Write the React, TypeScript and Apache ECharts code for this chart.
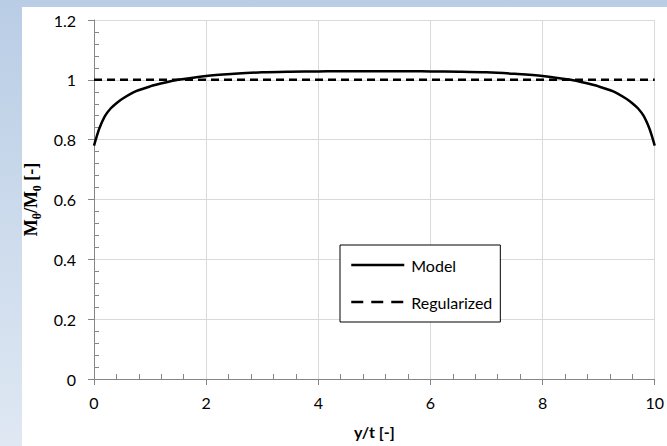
import React, { useEffect, useRef } from "react";
import * as echarts from "echarts";

const xValues = [0, 0.05, 0.1, 0.2, 0.3, 0.4, 0.5, 0.75, 1, 1.25, 1.5, 2, 2.5, 3, 3.5, 4, 4.5, 5, 5.5, 6, 6.5, 7, 7.5, 8, 8.5, 8.75, 9, 9.25, 9.5, 9.6, 9.7, 9.8, 9.9, 9.95, 10];
const modelValues = [0.78, 0.812, 0.84, 0.88, 0.905, 0.922, 0.936, 0.962, 0.978, 0.99, 1.0, 1.013, 1.02, 1.025, 1.027, 1.028, 1.029, 1.029, 1.029, 1.028, 1.027, 1.025, 1.02, 1.013, 1.0, 0.99, 0.978, 0.962, 0.936, 0.922, 0.905, 0.88, 0.84, 0.812, 0.78];
const regularizedX = [0, 10];
const regularizedValues = [1, 1];
const seriesNames = ["Model", "Regularized"];

const FONT = "Lato";

export default function App() {
  const ref = useRef<HTMLDivElement>(null);
  useEffect(() => {
    if (!ref.current) return;
    const chart = echarts.init(ref.current, undefined, { renderer: "svg" });
    const axisGrey = "#868686";
    const gridGrey = "#d9d9d9";
    chart.setOption({
      animation: false,
      backgroundColor: "transparent",
      graphic: [
        {
          type: "rect",
          z: -10,
          silent: true,
          shape: { x: 22, y: 7, width: 645, height: 439 },
          style: { fill: "#ffffff" },
        },
      ],
      grid: { left: 94, right: 8, top: 20, bottom: 67, containLabel: false },
      legend: {
        orient: "vertical",
        left: 340,
        top: 245,
        itemWidth: 53,
        itemHeight: 14,
        itemGap: 21,
        padding: [12, 8, 12, 10],
        borderColor: "#000",
        borderWidth: 1,
        backgroundColor: "#fff",
        itemStyle: { opacity: 0 },
        textStyle: { fontFamily: FONT, fontSize: 16, color: "#000", padding: [0, 0, 0, 2] },
        data: [
          { name: seriesNames[0], lineStyle: { width: 2.5 } },
          { name: seriesNames[1], lineStyle: { width: 2.5, type: [12, 8] } },
        ],
      },
      xAxis: [
        {
          type: "value",
          min: 0,
          max: 10,
          interval: 2,
          name: "y/t [-]",
          nameLocation: "middle",
          nameGap: 44,
          nameTextStyle: { fontFamily: FONT, fontSize: 16, fontWeight: "bold", color: "#000" },
          axisLine: { show: true, lineStyle: { color: axisGrey, width: 1 } },
          axisTick: { show: true, length: 6, inside: false, lineStyle: { color: axisGrey } },
          axisLabel: { margin: 15, fontFamily: FONT, fontSize: 16, color: "#000" },
          splitLine: { show: true, lineStyle: { color: gridGrey, width: 1 } },
        },
        {
          type: "value",
          min: 0,
          max: 10,
          interval: 2,
          position: "bottom",
          axisLine: { show: false },
          axisTick: { show: true, length: 5, inside: true, lineStyle: { color: "transparent" } },
          minorTick: { show: true, splitNumber: 5, length: 5, lineStyle: { color: axisGrey } },
          axisLabel: { show: false },
          splitLine: { show: false },
        },
      ],
      yAxis: [
        {
          type: "value",
          min: 0,
          max: 1.2,
          interval: 0.2,
          name: "{b|M}{s|θ}{b|/M}{s|0}{b| [-]}",
          nameLocation: "middle",
          nameGap: 51,
          nameTextStyle: {
            rich: {
              b: { fontFamily: "Liberation Serif", fontSize: 18, fontWeight: "bold", color: "#000", verticalAlign: "bottom" },
              s: { fontFamily: "Liberation Serif", fontSize: 12, fontWeight: "bold", color: "#000", verticalAlign: "bottom", padding: [0, 0, -3, 0] },
            },
          },
          axisLine: { show: true, lineStyle: { color: axisGrey, width: 1 } },
          axisTick: { show: true, length: 6, inside: false, lineStyle: { color: axisGrey } },
          axisLabel: {
            margin: 18,
            fontFamily: FONT,
            fontSize: 16,
            color: "#000",
            formatter: (v: number) => String(Math.round(v * 10) / 10),
          },
          splitLine: { show: true, lineStyle: { color: gridGrey, width: 1 } },
        },
        {
          type: "value",
          min: 0,
          max: 1.2,
          interval: 0.2,
          position: "left",
          axisLine: { show: false },
          axisTick: { show: true, length: 5, inside: true, lineStyle: { color: "transparent" } },
          minorTick: { show: true, splitNumber: 5, length: 5, lineStyle: { color: axisGrey } },
          axisLabel: { show: false },
          splitLine: { show: false },
        },
      ],
      series: [
        {
          name: seriesNames[0],
          type: "line",
          xAxisIndex: 0,
          yAxisIndex: 0,
          data: xValues.map((x, i) => [x, modelValues[i]]),
          smooth: 0.3,
          showSymbol: false,
          symbol: "none",
          lineStyle: { color: "#000", width: 2.5 },
          itemStyle: { color: "#000" },
          z: 3,
        },
        {
          name: seriesNames[1],
          type: "line",
          xAxisIndex: 0,
          yAxisIndex: 0,
          data: regularizedX.map((x, i) => [x, regularizedValues[i]]),
          showSymbol: false,
          symbol: "none",
          lineStyle: { color: "#000", width: 2.5, type: [8, 5] },
          itemStyle: { color: "#000" },
          z: 2,
        },
      ],
    });
    return () => chart.dispose();
  }, []);
  return (
    <div
      style={{
        position: "absolute",
        left: 0,
        top: 0,
        width: 667,
        height: 446,
        background: "linear-gradient(to bottom, #b9cde5 0%, #dfe8f3 100%)",
      }}
    >
      <div ref={ref} style={{ width: 667, height: 446 }} />
    </div>
  );
}
